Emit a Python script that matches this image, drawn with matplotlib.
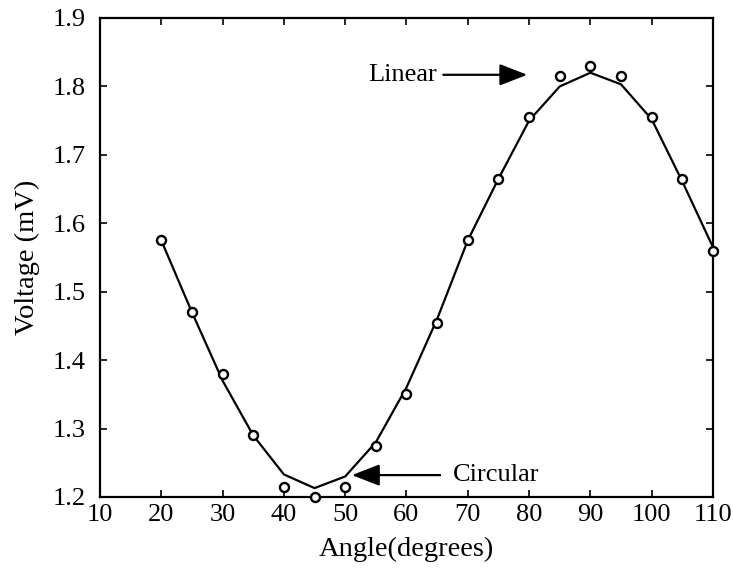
import matplotlib
matplotlib.use("Agg")
import matplotlib.pyplot as plt

# measured points (circles)
angle = [20, 25, 30, 35, 40, 45, 50, 55, 60, 65, 70, 75, 80, 85, 90, 95, 100, 105, 110]
voltage = [1.575, 1.47, 1.38, 1.29, 1.215, 1.2, 1.215, 1.275, 1.35, 1.455,
           1.575, 1.665, 1.755, 1.815, 1.83, 1.815, 1.755, 1.665, 1.56]

# fitted curve (solid line)
fit = [1.575, 1.47, 1.37, 1.29, 1.233, 1.213, 1.23, 1.28, 1.36, 1.46,
       1.575, 1.665, 1.75, 1.8, 1.82, 1.803, 1.752, 1.661, 1.565]

xticks = [10, 20, 30, 40, 50, 60, 70, 80, 90, 100, 110]
yticks = [1.2, 1.3, 1.4, 1.5, 1.6, 1.7, 1.8, 1.9]

plt.rcParams["font.family"] = ["Liberation Serif", "DejaVu Serif"]
plt.rcParams["font.size"] = 19

fig = plt.figure(figsize=(7.33, 5.71), dpi=100)
ax = fig.add_axes([0.1364, 0.1296, 0.8363, 0.8389])

ax.plot(angle, fit, color="black", linewidth=1.6, zorder=2)
ax.plot(angle, voltage, linestyle="none", marker="o", markersize=6.5,
        markerfacecolor="white", markeredgecolor="black", markeredgewidth=1.7,
        clip_on=False, zorder=3)

ax.set_xlim(10, 110)
ax.set_ylim(1.2, 1.9)
ax.set_xticks(xticks)
ax.set_yticks(yticks)
ax.set_xticklabels([str(v) for v in xticks])
ax.set_yticklabels([f"{v:.1f}" for v in yticks])
ax.tick_params(direction="in", length=5, width=1.2, top=True, right=True)
ax.tick_params(axis="x", pad=5)
ax.tick_params(axis="y", pad=10)
for s in ax.spines.values():
    s.set_linewidth(1.6)

ax.set_xlabel("Angle(degrees)", fontsize=20.5, labelpad=8)
ax.set_ylabel("Voltage (mV)", fontsize=20.5, labelpad=9)

ax.annotate("", xy=(79.7, 1.817), xytext=(66.0, 1.817),
            arrowprops=dict(arrowstyle="-|>,head_length=0.9,head_width=0.35",
                            color="black", lw=1.6, shrinkA=0, shrinkB=0))
ax.text(65.0, 1.817, "Linear", ha="right", va="center")

ax.annotate("", xy=(51.1, 1.232), xytext=(65.5, 1.232),
            arrowprops=dict(arrowstyle="-|>,head_length=0.9,head_width=0.35",
                            color="black", lw=1.6, shrinkA=0, shrinkB=0))
ax.text(67.6, 1.232, "Circular", ha="left", va="center")

fig.savefig("out.png", dpi=100)
